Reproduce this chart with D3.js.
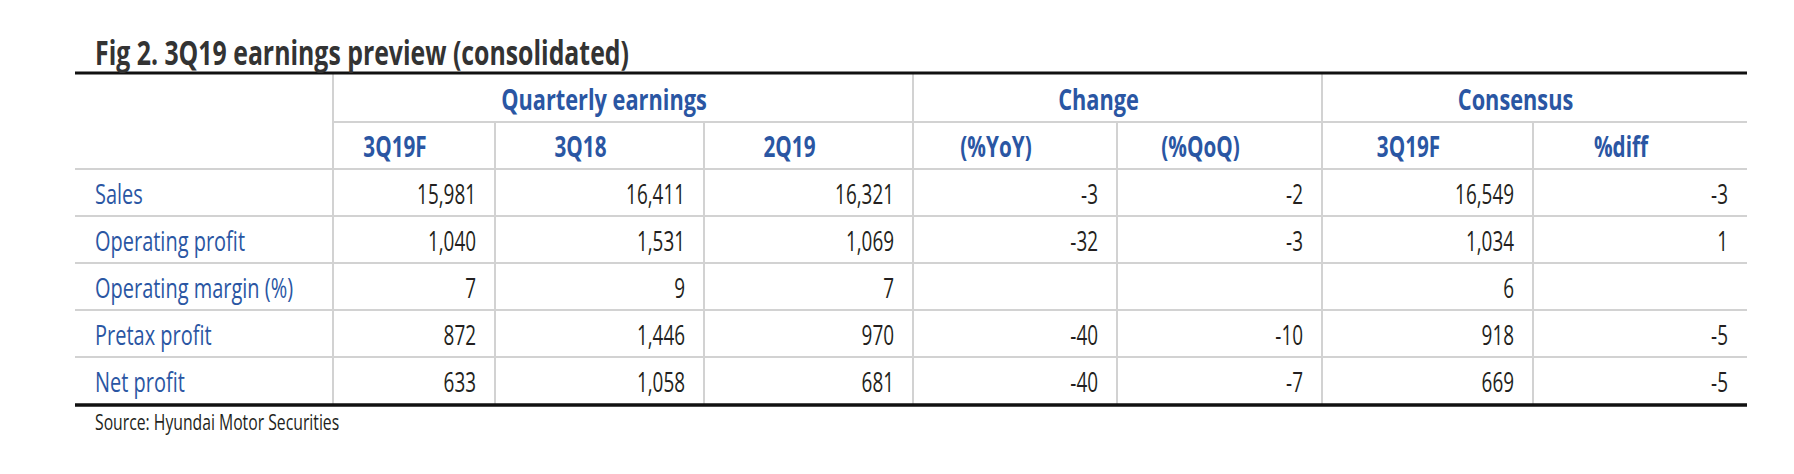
<!DOCTYPE html>
<html>
<head>
<meta charset="utf-8">
<script src="https://cdn.jsdelivr.net/npm/d3@7"></script>
<style>
  body { margin: 0; background: #fff; }
  svg { display: block; }
</style>
</head>
<body>
<svg id="table"></svg>
<script>
const width = 1794;
const height = 474;

// table contents
const titleText = "Fig 2. 3Q19 earnings preview (consolidated)";
const sourceText = "Source: Hyundai Motor Securities";
const groupHeaders = ["Quarterly earnings", "Change", "Consensus"];
const groupSpans = [3, 2, 2]; // how many columns each group covers
const subHeaders = ["3Q19F", "3Q18", "2Q19", "(%YoY)", "(%QoQ)", "3Q19F", "%diff"];
const rowLabels = ["Sales", "Operating profit", "Operating margin (%)", "Pretax profit", "Net profit"];

const qe3Q19F = [15981, 1040, 7, 872, 633];
const qe3Q18 = [16411, 1531, 9, 1446, 1058];
const qe2Q19 = [16321, 1069, 7, 970, 681];
const chgYoY = [-3, -32, null, -40, -40];
const chgQoQ = [-2, -3, null, -10, -7];
const cons3Q19F = [16549, 1034, 6, 918, 669];
const consDiff = [-3, 1, null, -5, -5];

const columns = [qe3Q19F, qe3Q18, qe2Q19, chgYoY, chgQoQ, cons3Q19F, consDiff];

// layout
const tableLeft = 75;
const tableRight = 1747;
const labelColWidth = 258;
const colWidths = [162, 209, 209, 204, 205, 211, 214];
const topRule = 73;
const groupRowH = 49;
const headRowH = 47;
const bodyRowH = 47;
const pad = 19;

const blue = "#2a56a3";
const ink = "#231f20";
const grid = "#d2d2d2";
const fontFamily = "'Open Sans', 'Noto Sans', sans-serif";

const svg = d3.select("#table")
    .attr("width", width)
    .attr("height", height)
    .attr("font-family", fontFamily);

// column edges from the widths
const colEdges = [tableLeft + labelColWidth];
colWidths.forEach(w => colEdges.push(colEdges[colEdges.length - 1] + w));

const groupTop = topRule;
const headTop = groupTop + groupRowH;
const bodyTop = headTop + headRowH;

const y = d3.scaleBand()
    .domain(rowLabels)
    .range([bodyTop, bodyTop + bodyRowH * rowLabels.length]);
const bodyBottom = y.range()[1];

// plain hyphen for negatives, like the original
const fmt = d3.formatLocale({
    decimal: ".", thousands: ",", grouping: [3], currency: ["", ""], minus: "-"
}).format(",");

// helper: text squeezed horizontally around its anchor (stand-in for a condensed face)
function addText(parent, x, yPos, str, opts) {
    const g = parent.append("g")
        .attr("transform", `translate(${x},${yPos}) scale(${opts.squeeze || 0.72},1)`);
    g.append("text")
        .attr("text-anchor", opts.anchor || "start")
        .attr("font-size", opts.size)
        .attr("font-weight", opts.weight || "normal")
        .attr("fill", opts.fill)
        .text(str);
    return g;
}

// grid lines
const gridG = svg.append("g").attr("stroke", grid).attr("stroke-width", 2);

gridG.append("line")
    .attr("x1", colEdges[0]).attr("x2", tableRight)
    .attr("y1", headTop).attr("y2", headTop);

[bodyTop].concat(rowLabels.slice(1).map(d => y(d))).forEach(yy => {
    gridG.append("line")
        .attr("x1", tableLeft).attr("x2", tableRight)
        .attr("y1", yy).attr("y2", yy);
});

// group boundaries run to the top rule, inner ones start under the group row
const groupEdgeIdx = [0];
groupSpans.forEach(s => groupEdgeIdx.push(groupEdgeIdx[groupEdgeIdx.length - 1] + s));
colEdges.slice(0, -1).forEach((x, i) => {
    const full = groupEdgeIdx.includes(i);
    gridG.append("line")
        .attr("x1", x).attr("x2", x)
        .attr("y1", full ? groupTop : headTop)
        .attr("y2", bodyBottom);
});

// heavy rules
svg.append("line")
    .attr("x1", tableLeft).attr("x2", tableRight)
    .attr("y1", topRule).attr("y2", topRule)
    .attr("stroke", "#111").attr("stroke-width", 3);
svg.append("line")
    .attr("x1", tableLeft).attr("x2", tableRight)
    .attr("y1", bodyBottom + 1).attr("y2", bodyBottom + 1)
    .attr("stroke", "#111").attr("stroke-width", 3.5);

// title and source
addText(svg, 95, 65, titleText, { size: 34.5, weight: "bold", fill: "#333" });
addText(svg, 95, 430, sourceText, { size: 21, fill: ink, squeeze: 0.75 });

// group headers
groupHeaders.forEach((h, i) => {
    const x0 = colEdges[groupEdgeIdx[i]];
    const x1 = colEdges[groupEdgeIdx[i + 1]];
    addText(svg, (x0 + x1) / 2 - pad, groupTop + 37, h,
        { size: 29, weight: "bold", fill: blue, anchor: "middle", squeeze: 0.75 });
});

// sub headers
subHeaders.forEach((h, i) => {
    addText(svg, (colEdges[i] + colEdges[i + 1]) / 2 - pad, headTop + 35, h,
        { size: 28, weight: "bold", fill: blue, anchor: "middle", squeeze: 0.74 });
});

// row labels and values
rowLabels.forEach((r, ri) => {
    const base = y(r) + 35;
    addText(svg, 95, base, r, { size: 27, fill: blue, squeeze: 0.74 });
    columns.forEach((col, ci) => {
        const v = col[ri];
        if (v === null) return;
        addText(svg, colEdges[ci + 1] - pad, base, fmt(v),
            { size: 27, fill: ink, anchor: "end", squeeze: 0.7 });
    });
});
</script>
</body>
</html>
